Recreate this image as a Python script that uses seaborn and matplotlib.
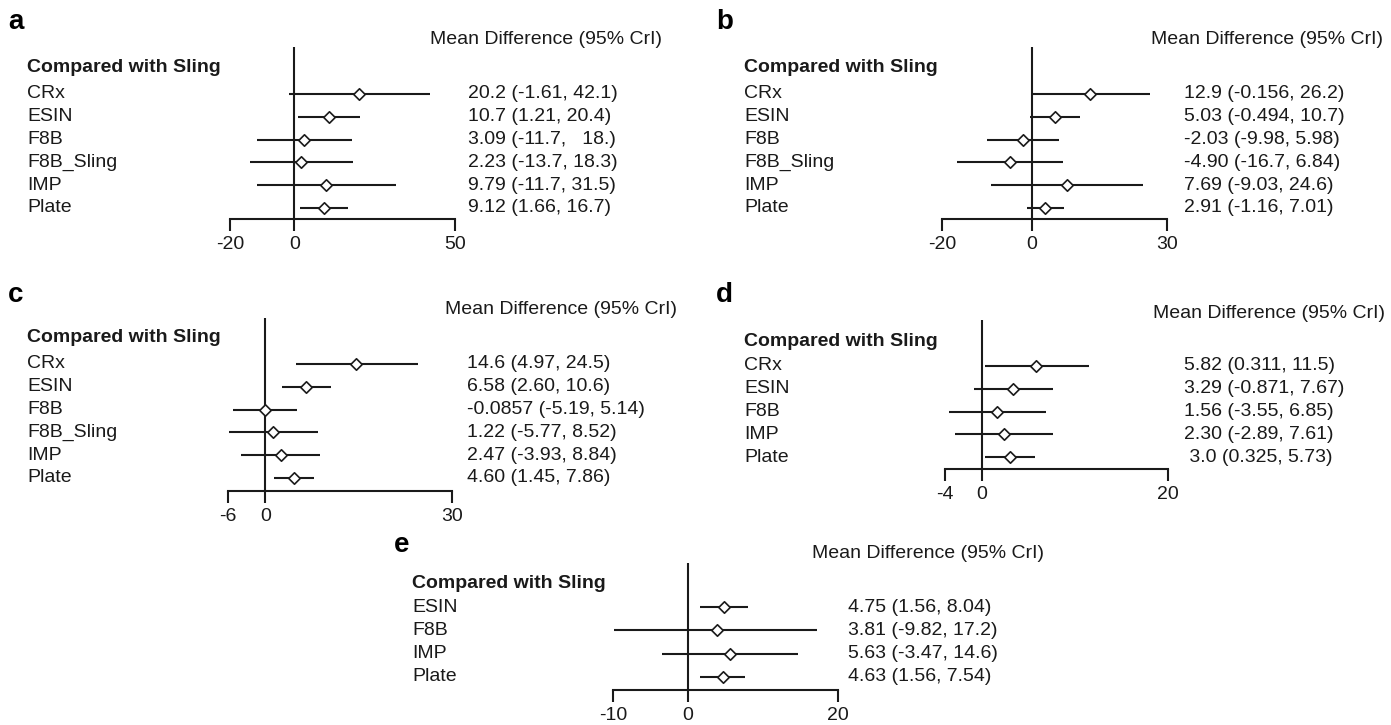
import numpy as np
import pandas as pd
import matplotlib
matplotlib.use("Agg")
import matplotlib.pyplot as plt
import matplotlib.transforms as mtransforms
import seaborn as sns

# panel a
a_names = ["CRx", "ESIN", "F8B", "F8B_Sling", "IMP", "Plate"]
a_md = [20.2, 10.7, 3.09, 2.23, 9.79, 9.12]
a_lo = [-1.61, 1.21, -11.7, -13.7, -11.7, 1.66]
a_hi = [42.1, 20.4, 18.0, 18.3, 31.5, 16.7]
a_txt = ["20.2 (-1.61, 42.1)", "10.7 (1.21, 20.4)", "3.09 (-11.7,   18.)",
         "2.23 (-13.7, 18.3)", "9.79 (-11.7, 31.5)", "9.12 (1.66, 16.7)"]
a_ticks = [-20, 0, 50]

# panel b
b_names = ["CRx", "ESIN", "F8B", "F8B_Sling", "IMP", "Plate"]
b_md = [12.9, 5.03, -2.03, -4.90, 7.69, 2.91]
b_lo = [-0.156, -0.494, -9.98, -16.7, -9.03, -1.16]
b_hi = [26.2, 10.7, 5.98, 6.84, 24.6, 7.01]
b_txt = ["12.9 (-0.156, 26.2)", "5.03 (-0.494, 10.7)", "-2.03 (-9.98, 5.98)",
         "-4.90 (-16.7, 6.84)", "7.69 (-9.03, 24.6)", "2.91 (-1.16, 7.01)"]
b_ticks = [-20, 0, 30]

# panel c
c_names = ["CRx", "ESIN", "F8B", "F8B_Sling", "IMP", "Plate"]
c_md = [14.6, 6.58, -0.0857, 1.22, 2.47, 4.60]
c_lo = [4.97, 2.60, -5.19, -5.77, -3.93, 1.45]
c_hi = [24.5, 10.6, 5.14, 8.52, 8.84, 7.86]
c_txt = ["14.6 (4.97, 24.5)", "6.58 (2.60, 10.6)", "-0.0857 (-5.19, 5.14)",
         "1.22 (-5.77, 8.52)", "2.47 (-3.93, 8.84)", "4.60 (1.45, 7.86)"]
c_ticks = [-6, 0, 30]

# panel d
d_names = ["CRx", "ESIN", "F8B", "IMP", "Plate"]
d_md = [5.82, 3.29, 1.56, 2.30, 3.0]
d_lo = [0.311, -0.871, -3.55, -2.89, 0.325]
d_hi = [11.5, 7.67, 6.85, 7.61, 5.73]
d_txt = ["5.82 (0.311, 11.5)", "3.29 (-0.871, 7.67)", "1.56 (-3.55, 6.85)",
         "2.30 (-2.89, 7.61)", " 3.0 (0.325, 5.73)"]
d_ticks = [-4, 0, 20]

# panel e
e_names = ["ESIN", "F8B", "IMP", "Plate"]
e_md = [4.75, 3.81, 5.63, 4.63]
e_lo = [1.56, -9.82, -3.47, 1.56]
e_hi = [8.04, 17.2, 14.6, 7.54]
e_txt = ["4.75 (1.56, 8.04)", "3.81 (-9.82, 17.2)", "5.63 (-3.47, 14.6)",
         "4.63 (1.56, 7.54)"]
e_ticks = [-10, 0, 20]

header = "Compared with Sling"
md_title = "Mean Difference (95% CrI)"

sns.set_theme(style="white")
plt.rcParams['font.family'] = ['Liberation Sans', 'DejaVu Sans']

W, H = 1391, 725
fig = plt.figure(figsize=(W / 100, H / 100), dpi=100)
ink = "#1a1a1a"
fs = 14
lw = 1.5

# layout in pixels: axis ends, axis line, top of zero line, first row, row step,
# label / text / title x, title y, panel letter, header y
panels = [
    ("a", a_names, a_md, a_lo, a_hi, a_txt, a_ticks,
     dict(x0=230, x1=455, ay=219, ty=47, r0=94, sp=22.8, lx=27, tx=468, mx=430, my=40, let=(8, 29), cy=67)),
    ("b", b_names, b_md, b_lo, b_hi, b_txt, b_ticks,
     dict(x0=942, x1=1167, ay=219, ty=47, r0=94, sp=22.8, lx=744, tx=1184, mx=1151, my=40, let=(716, 29), cy=68)),
    ("c", c_names, c_md, c_lo, c_hi, c_txt, c_ticks,
     dict(x0=228, x1=452, ay=491, ty=318, r0=364, sp=22.8, lx=27, tx=467, mx=445, my=310, let=(8, 302), cy=338)),
    ("d", d_names, d_md, d_lo, d_hi, d_txt, d_ticks,
     dict(x0=945, x1=1168, ay=469, ty=320, r0=366, sp=22.8, lx=744, tx=1184, mx=1153, my=313, let=(716, 302), cy=342)),
    ("e", e_names, e_md, e_lo, e_hi, e_txt, e_ticks,
     dict(x0=613, x1=838, ay=690, ty=563, r0=607, sp=23.3, lx=412, tx=848, mx=812, my=553, let=(394, 552), cy=583)),
]

for letter, names, md, lo, hi, txt, ticks, L in panels:
    ax = fig.add_axes([L["x0"] / W, 1 - L["ay"] / H,
                       (L["x1"] - L["x0"]) / W, (L["ay"] - L["ty"]) / H])
    df = pd.DataFrame({"name": names, "md": md, "lo": lo, "hi": hi,
                       "row": np.arange(len(names))})

    ax.hlines(df["row"], df["lo"], df["hi"], color=ink, lw=lw, zorder=2)
    ax.axvline(0, color=ink, lw=lw, zorder=1)
    sns.scatterplot(data=df, x="md", y="row", ax=ax, marker="D", s=34,
                    color="white", edgecolor=ink, linewidth=1.2, zorder=3, legend=False)

    ax.set_xlim(ticks[0], ticks[-1])
    ax.set_ylim((L["ay"] - L["r0"]) / L["sp"], (L["ty"] - L["r0"]) / L["sp"])
    ax.set_xticks(ticks)
    ax.set_xticklabels([str(t) for t in ticks])
    ax.set_yticks([])
    ax.set_xlabel("")
    ax.set_ylabel("")
    for s in ["top", "left", "right"]:
        ax.spines[s].set_visible(False)
    ax.spines["bottom"].set_color(ink)
    ax.spines["bottom"].set_linewidth(lw)
    ax.tick_params(axis="x", direction="out", length=8.5, width=lw, color=ink,
                   labelsize=fs, labelcolor=ink, pad=4, bottom=True)
    ax.set_facecolor("none")

    tr = mtransforms.blended_transform_factory(fig.transFigure, ax.transData)
    for i, row in df.iterrows():
        ax.text(L["lx"] / W, row["row"], row["name"], transform=tr, ha="left",
                va="center", fontsize=fs, color=ink)
        ax.text(L["tx"] / W, row["row"], txt[i], transform=tr, ha="left",
                va="center", fontsize=fs, color=ink)
    ax.text(L["lx"] / W, (L["cy"] - L["r0"]) / L["sp"], header, transform=tr,
            ha="left", va="center", fontsize=fs, fontweight="bold", color=ink)

    fig.text(L["mx"] / W, 1 - L["my"] / H, md_title, ha="left", va="center",
             fontsize=fs, color=ink)
    fig.text(L["let"][0] / W, 1 - L["let"][1] / H, letter, ha="left",
             va="baseline", fontsize=20, fontweight="bold", color="black")

fig.savefig("out.png", dpi=100, facecolor="white")
